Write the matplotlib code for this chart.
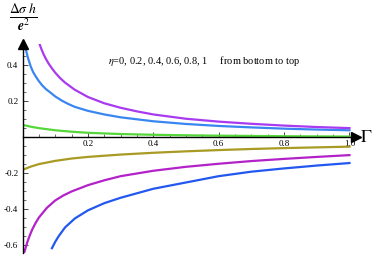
import matplotlib
matplotlib.use('Agg')
import matplotlib.pyplot as plt
from matplotlib.ticker import MultipleLocator, FixedLocator

plt.rcParams['font.family'] = ['Liberation Serif', 'DejaVu Serif']
plt.rcParams['mathtext.fontset'] = 'stix'

# curves, eta = 0 ... 1 from bottom to top
g_eta0 = [0.09, 0.1, 0.11, 0.13, 0.16, 0.2, 0.25, 0.3, 0.4, 0.5, 0.6, 0.7, 0.8, 0.9, 1.0]
v_eta0 = [-0.615, -0.58, -0.55, -0.5, -0.45, -0.405, -0.365, -0.335, -0.285, -0.25, -0.215, -0.19, -0.172, -0.156, -0.142]

g_eta02 = [0.005, 0.01, 0.015, 0.022, 0.03, 0.04, 0.05, 0.075, 0.1, 0.125, 0.15, 0.2, 0.25, 0.3, 0.4, 0.5, 0.6, 0.7, 0.8, 0.9, 1.0]
v_eta02 = [-0.64, -0.61, -0.58, -0.545, -0.51, -0.475, -0.445, -0.39, -0.35, -0.322, -0.3, -0.265, -0.238, -0.215, -0.185, -0.163, -0.146, -0.131, -0.119, -0.108, -0.098]

g_eta04 = [0.0, 0.025, 0.05, 0.1, 0.15, 0.2, 0.3, 0.4, 0.5, 0.6, 0.7, 0.8, 0.9, 1.0]
v_eta04 = [-0.18, -0.162, -0.148, -0.13, -0.117, -0.108, -0.095, -0.085, -0.077, -0.07, -0.064, -0.059, -0.055, -0.051]

g_eta06 = [0.0, 0.025, 0.05, 0.1, 0.15, 0.2, 0.3, 0.4, 0.5, 0.6, 0.8, 1.0]
v_eta06 = [0.07, 0.06, 0.052, 0.04, 0.032, 0.026, 0.019, 0.015, 0.012, 0.01, 0.007, 0.005]

g_eta08 = [0.008, 0.012, 0.017, 0.025, 0.032, 0.04, 0.05, 0.06, 0.072, 0.085, 0.1, 0.12, 0.14, 0.16, 0.2, 0.25, 0.3, 0.4, 0.5, 0.6, 0.7, 0.8, 0.9, 1.0]
v_eta08 = [0.51, 0.475, 0.44, 0.395, 0.365, 0.34, 0.313, 0.29, 0.268, 0.25, 0.228, 0.205, 0.186, 0.17, 0.148, 0.128, 0.112, 0.09, 0.075, 0.064, 0.056, 0.049, 0.044, 0.04]

g_eta1 = [0.052, 0.058, 0.065, 0.072, 0.08, 0.09, 0.1, 0.115, 0.13, 0.16, 0.2, 0.25, 0.3, 0.35, 0.4, 0.5, 0.6, 0.7, 0.8, 0.9, 1.0]
v_eta1 = [0.52, 0.49, 0.46, 0.435, 0.41, 0.384, 0.36, 0.33, 0.305, 0.265, 0.225, 0.19, 0.165, 0.145, 0.128, 0.104, 0.088, 0.076, 0.066, 0.058, 0.052]

x_ticks = [0.2, 0.4, 0.6, 0.8, 1.0]
x_labels = ['0.2', '0.4', '0.6', '0.8', '1.0']
y_ticks = [-0.6, -0.4, -0.2, 0.2, 0.4]
y_labels = ['-0.6', '-0.4', '-0.2', '0.2', '0.4']

curves = [(g_eta0, v_eta0, '#2258f0'),
          (g_eta02, v_eta02, '#b322c8'),
          (g_eta04, v_eta04, '#a89a22'),
          (g_eta06, v_eta06, '#55d63a'),
          (g_eta08, v_eta08, '#3a86f0'),
          (g_eta1, v_eta1, '#a83af0')]

fig = plt.figure(figsize=(3.74, 2.56), dpi=100)
ax = fig.add_axes([0.0602, 0.013, 0.8917, 0.8156])

for g, v, c in curves:
    ax.plot(g, v, color=c, lw=1.6, solid_joinstyle='round')

ax.set_xlim(0, 1.02)
ax.set_ylim(-0.64, 0.52)

ax.spines['left'].set_position(('data', 0))
ax.spines['bottom'].set_position(('data', 0))
ax.spines['top'].set_visible(False)
ax.spines['right'].set_visible(False)
for s in ['left', 'bottom']:
    ax.spines[s].set_linewidth(1.0)
ax.plot(1, 0, '>k', ms=7, transform=ax.get_yaxis_transform(), clip_on=False)
ax.plot(0, 1, '^k', ms=7, transform=ax.get_xaxis_transform(), clip_on=False)

ax.xaxis.set_major_locator(FixedLocator(x_ticks))
ax.set_xticklabels(x_labels)
ax.yaxis.set_major_locator(FixedLocator(y_ticks))
ax.set_yticklabels(y_labels)
ax.xaxis.set_minor_locator(MultipleLocator(0.05))
ax.yaxis.set_minor_locator(MultipleLocator(0.05))
ax.tick_params(which='major', direction='in', length=3.5, width=0.5, labelsize=6.5, pad=2)
ax.tick_params(which='minor', direction='in', length=2, width=0.4)
ax.tick_params(axis='y', pad=3)

ax.text(0.26, 0.425, r'$\eta$=0, 0.2, 0.4, 0.6, 0.8, 1     from bottom to top',
        fontsize=7.5, va='center', ha='left')
fig.text(23 / 374, 1 - 17 / 256, r'$\frac{\Delta\sigma\ h}{\mathbfit{e}^2}$',
         fontsize=14, ha='center', va='center')
fig.text(366 / 374, 1 - 137 / 256, r'$\Gamma$', fontsize=13, ha='center', va='center')

fig.savefig('out.png', dpi=100)
